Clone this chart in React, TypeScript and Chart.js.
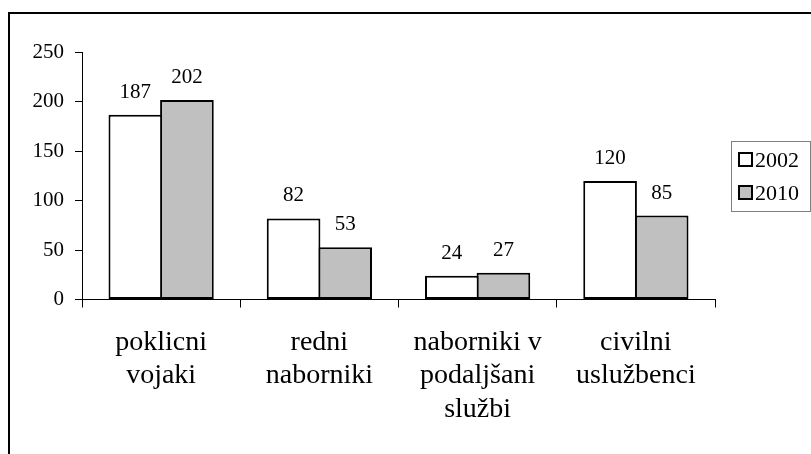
import React, { useEffect, useRef } from 'react';
import { Chart, registerables } from 'chart.js';

Chart.register(...registerables);

const categories: string[][] = [
  ['poklicni', 'vojaki'],
  ['redni', 'naborniki'],
  ['naborniki v', 'podaljšani', 'službi'],
  ['civilni', 'uslužbenci'],
];
const seriesNames = ['2002', '2010'];
const values2002 = [187, 82, 24, 120];
const values2010 = [202, 53, 27, 85];
const yTicks = [0, 50, 100, 150, 200, 250];
const seriesColors = ['#ffffff', '#c0c0c0'];

const FONT = "'Liberation Serif', 'Times New Roman', serif";

const decorPlugin = {
  id: 'decor',
  afterDraw(chart: any) {
    const ctx = chart.ctx as CanvasRenderingContext2D;
    ctx.save();
    // outer frame
    ctx.strokeStyle = '#000';
    ctx.lineWidth = 2;
    ctx.strokeRect(9, 13, 1000, 1000);

    // data labels
    ctx.fillStyle = '#000';
    ctx.font = `21px ${FONT}`;
    ctx.textAlign = 'center';
    ctx.textBaseline = 'alphabetic';
    chart.data.datasets.forEach((ds: any, di: number) => {
      const meta = chart.getDatasetMeta(di);
      meta.data.forEach((bar: any, i: number) => {
        ctx.fillText(String(ds.data[i]), bar.x, bar.y - 17);
      });
    });

    // legend
    const lx = 731, ly = 141, lw = 79, lh = 70;
    ctx.fillStyle = '#fff';
    ctx.fillRect(lx, ly, lw, lh);
    ctx.strokeStyle = '#808080';
    ctx.lineWidth = 1;
    ctx.strokeRect(lx + 0.5, ly + 0.5, lw, lh);
    ctx.font = `22px ${FONT}`;
    ctx.textAlign = 'left';
    chart.data.datasets.forEach((ds: any, di: number) => {
      const base = 167 + di * 33;
      ctx.fillStyle = ds.backgroundColor;
      ctx.fillRect(739, base - 14, 13, 13);
      ctx.strokeStyle = '#000';
      ctx.lineWidth = 2;
      ctx.strokeRect(739, base - 14, 13, 13);
      ctx.fillStyle = '#000';
      ctx.fillText(ds.label, 755, base);
    });
    ctx.restore();
  },
};

export default function App() {
  const ref = useRef<HTMLCanvasElement | null>(null);
  useEffect(() => {
    if (!ref.current) return;
    Chart.defaults.color = '#000';
    const chart = new Chart(ref.current, {
      type: 'bar',
      data: {
        labels: categories as any,
        datasets: [
          {
            label: seriesNames[0],
            data: values2002,
            backgroundColor: seriesColors[0],
            borderColor: '#000',
            borderWidth: 2,
            borderSkipped: false,
            categoryPercentage: 0.652,
            barPercentage: 1.04,
          },
          {
            label: seriesNames[1],
            data: values2010,
            backgroundColor: seriesColors[1],
            borderColor: '#000',
            borderWidth: 2,
            borderSkipped: false,
            categoryPercentage: 0.652,
            barPercentage: 1.04,
          },
        ],
      },
      options: {
        animation: false,
        responsive: true,
        maintainAspectRatio: false,
        layout: { padding: { top: 52.5, right: 96, bottom: 0, left: 0 } },
        plugins: {
          legend: { display: false },
          tooltip: { enabled: false },
        },
        scales: {
          x: {
            grid: {
              offset: true,
              drawOnChartArea: false,
              drawTicks: true,
              tickLength: 8,
              color: '#000',
              lineWidth: 1,
            },
            border: { display: true, color: '#000', width: 1 },
            ticks: {
              font: { family: FONT, size: 28, lineHeight: 1.2 },
              color: '#000',
              padding: 18,
              maxRotation: 0,
              autoSkip: false,
            },
            afterFit(scale: any) {
              scale.height = 154.5;
            },
          },
          y: {
            min: 0,
            max: 250,
            afterBuildTicks(scale: any) {
              scale.ticks = yTicks.map((v) => ({ value: v }));
            },
            grid: {
              drawOnChartArea: false,
              drawTicks: true,
              tickLength: 7,
              color: '#000',
              lineWidth: 1,
            },
            border: { display: true, color: '#000', width: 1 },
            ticks: {
              font: { family: FONT, size: 21 },
              color: '#000',
              padding: 11,
            },
            afterFit(scale: any) {
              scale.width = 82;
            },
          },
        },
      },
      plugins: [decorPlugin],
    });
    return () => chart.destroy();
  }, []);
  return (
    <div style={{ position: 'fixed', left: 0, top: 0, width: 811, height: 454, background: '#fff' }}>
      <canvas ref={ref} />
    </div>
  );
}
